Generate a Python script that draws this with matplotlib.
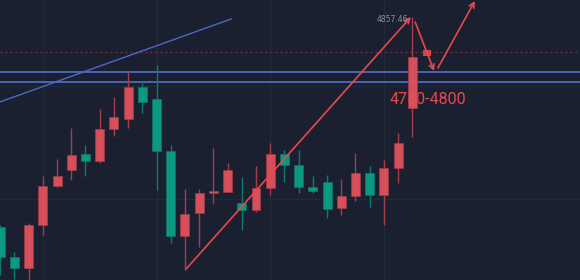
import matplotlib
matplotlib.use("Agg")
import matplotlib.pyplot as plt
from matplotlib.patches import Rectangle

# candle data (index = bar number), red = up, green = down
opens = [4752.5, 4737.5, 4732.0, 4753.5, 4773.0, 4781.0, 4789.0, 4785.5, 4801.5, 4806.5,
         4822.5, 4816.5, 4790.5, 4748.0, 4759.5, 4769.5, 4770.0, 4764.5, 4761.0, 4772.0,
         4789.0, 4783.5, 4772.5, 4775.0, 4762.0, 4768.0, 4779.5, 4768.5, 4782.0, 4812.0]
highs = [4753.5, 4740.0, 4754.5, 4778.0, 4786.5, 4802.0, 4793.5, 4811.5, 4817.5, 4830.0,
         4824.5, 4833.5, 4793.5, 4771.5, 4771.5, 4792.0, 4784.5, 4777.5, 4783.0, 4794.5,
         4791.0, 4791.0, 4778.0, 4778.5, 4776.5, 4789.5, 4783.0, 4786.0, 4799.5, 4857.46]
lows = [4728.5, 4726.5, 4721.0, 4748.5, 4772.5, 4776.0, 4778.0, 4784.5, 4798.0, 4802.0,
        4809.5, 4771.0, 4744.5, 4731.0, 4742.5, 4764.0, 4770.0, 4751.0, 4760.0, 4768.5,
        4775.0, 4769.5, 4769.5, 4757.0, 4758.5, 4765.5, 4762.5, 4753.5, 4774.5, 4797.5]
closes = [4737.5, 4732.0, 4753.5, 4773.0, 4778.0, 4788.5, 4785.5, 4801.5, 4807.5, 4822.5,
          4815.0, 4790.5, 4748.0, 4759.0, 4769.5, 4770.5, 4781.0, 4761.0, 4772.0, 4789.0,
          4783.5, 4772.5, 4770.5, 4761.5, 4768.0, 4779.5, 4768.5, 4782.0, 4794.5, 4837.5]

# drawn levels and trend lines
zone_levels = [4830.2, 4824.8]
dotted_level = 4839.9
blue_trend = ([-0.5, 16.25], [4813.8, 4856.5])
red_up = ((13.08, 4731.5), (28.9, 4857.5))
red_down = ((29.2, 4855.0), (30.53, 4830.5))
red_up2 = ((30.8, 4832.0), (33.4, 4865.5))
mid_marker = (30.04, 4839.5)
grid_x = [3, 11, 19, 27]
grid_y = [4823.0, 4766.5]

high_label = "4857.46"
zone_label = "4780-4800"

BG = "#1b2030"
RED = "#e0525d"
RED_WICK = "#a63d4b"
GREEN = "#0c9e86"
GREEN_WICK = "#0b7c6a"
BLUE = "#4c69c4"
ARROW = "#e8484b"

fig = plt.figure(figsize=(5.8, 2.8), dpi=100)
fig.patch.set_facecolor(BG)
ax = fig.add_axes([0, 0, 1, 1])
ax.set_facecolor(BG)
ax.set_xlim(-0.014, 40.8)
ax.set_ylim(4726, 4866)
ax.axis("off")

for gx in grid_x:
    ax.axvline(gx, color="#222a37", lw=1, zorder=0)
for gy in grid_y:
    ax.axhline(gy, color="#222a37", lw=1, zorder=0)

ax.axhline(dotted_level, color="#7a3345", lw=0.9, ls=(0, (1.5, 2.5)), zorder=1)
for lv in zone_levels:
    ax.axhline(lv, color=BLUE, lw=1.3, zorder=1)
ax.plot(blue_trend[0], blue_trend[1], color=BLUE, lw=1.0, zorder=1)

ax.text(30.1, 4816.3, zone_label, color="#e5494c", fontsize=11.5,
        family="Roboto", ha="center", va="center", zorder=2)

w = 0.63
for i, (o, h, l, c) in enumerate(zip(opens, highs, lows, closes)):
    up = c >= o
    body_c = RED if up else GREEN
    wick_c = RED_WICK if up else GREEN_WICK
    ax.vlines(i, l, h, color=wick_c, lw=1, zorder=3)
    lo, hi = min(o, c), max(o, c)
    ax.add_patch(Rectangle((i - w / 2, lo), w, max(hi - lo, 0.8),
                           facecolor=body_c, edgecolor=wick_c, lw=0.5,
                           alpha=0.95, zorder=4))

arrow = dict(arrowstyle="->", color=ARROW, lw=1.2, mutation_scale=9,
             shrinkA=0, shrinkB=0)
for start, end in (red_up, red_down, red_up2):
    ax.annotate("", xy=end, xytext=start, arrowprops=arrow, zorder=5)

ax.add_patch(Rectangle((mid_marker[0] - 0.3, mid_marker[1] - 1.6), 0.6, 3.2,
                       facecolor=ARROW, edgecolor="none", alpha=0.9, zorder=5))

ax.text(28.7, 4856.0, high_label, color="#8b909b", fontsize=5.5,
        ha="right", va="center", zorder=6)

fig.savefig("out.png", dpi=100, facecolor=BG)
